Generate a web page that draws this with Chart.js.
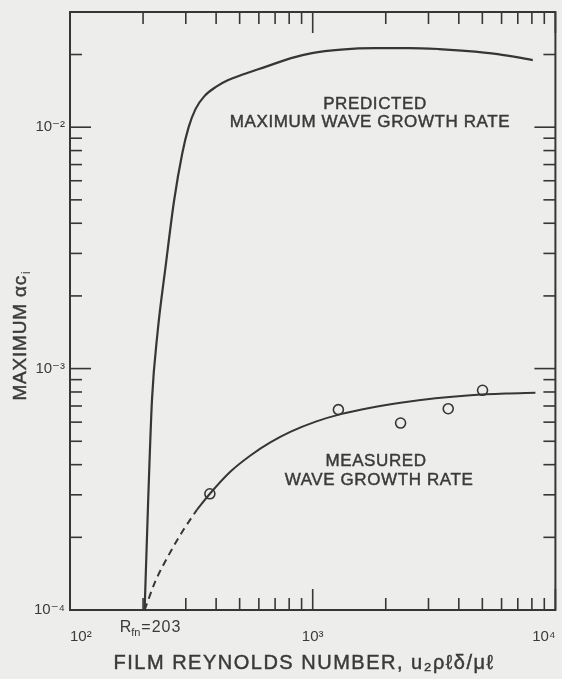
<!DOCTYPE html>
<html>
<head>
<meta charset="utf-8">
<script src="https://cdn.jsdelivr.net/npm/chart.js@4.4.1/dist/chart.umd.min.js"></script>
<style>
  html, body { margin: 0; padding: 0; background: #ededeb; }
  canvas { display: block; }
</style>
</head>
<body>
<canvas id="c" width="562" height="679"></canvas>
<script>
// ---------------- data ----------------
const predictedRe   = [203, 210, 217.7, 229.5, 247.7, 268.6, 290.2, 308.2, 328.9, 357.9, 400.7, 448.8, 507.7, 642.9, 814.4, 993, 1307, 1804, 2490, 3307, 4113, 5786, 8066];
const predictedRate = [1.0e-4, 2.86e-4, 7.44e-4, 1.411e-3, 2.65e-3, 4.98e-3, 7.80e-3, 1.0e-2, 1.188e-2, 1.345e-2, 1.472e-2, 1.567e-2, 1.644e-2, 1.782e-2, 1.933e-2, 2.028e-2, 2.097e-2, 2.127e-2, 2.127e-2, 2.107e-2, 2.077e-2, 2.009e-2, 1.897e-2];

const measuredExtrapRe   = [203, 224.2, 256.7, 293.5, 333.2];
const measuredExtrapRate = [1.0e-4, 1.307e-4, 1.708e-4, 2.148e-4, 2.60e-4];

const measuredFitRe   = [333.2, 376.9, 459.7, 555.8, 671.8, 812.3, 1029, 1304, 1733, 2302, 3208, 4469, 6228, 8274];
const measuredFitRate = [2.60e-4, 3.03e-4, 3.755e-4, 4.377e-4, 4.955e-4, 5.478e-4, 6.027e-4, 6.476e-4, 6.89e-4, 7.226e-4, 7.544e-4, 7.762e-4, 7.89e-4, 7.95e-4];

const measuredRe   = [377, 1276, 2302, 3617, 5010];
const measuredRate = [3.03e-4, 6.76e-4, 5.95e-4, 6.82e-4, 8.13e-4];

const xTickValues = [100, 1000, 10000];
const xTickLabels = ['10²', '10³', '10⁴'];
const yTickValues = [1e-4, 1e-3, 1e-2];
const yTickLabels = ['10⁻⁴', '10⁻³', '10⁻²'];
const xMinorTicks = [200, 300, 400, 500, 600, 700, 800, 900, 2000, 3000, 4000, 5000, 6000, 7000, 8000, 9000];
const yMinorTicks = [2e-4, 3e-4, 4e-4, 5e-4, 6e-4, 7e-4, 8e-4, 9e-4, 2e-3, 3e-3, 4e-3, 5e-3, 6e-3, 7e-3, 8e-3, 9e-3, 2e-2];

const neutralRe = 203;
const xTitle = 'FILM REYNOLDS NUMBER, u₂ρℓδ/μℓ';
const yTitleMain = 'MAXIMUM αc';
const yTitleSub = 'i';
const predictedLabel = ['PREDICTED', 'MAXIMUM WAVE GROWTH RATE'];
const measuredLabel = ['MEASURED', 'WAVE GROWTH RATE'];

// ---------------- styling ----------------
const INK = '#363636';
const TEXT = '#3a3a3a';
const BG = '#ededeb';
const FONT = '"Liberation Sans", Arial, "DejaVu Sans", sans-serif';

const pts = (xs, ys) => xs.map((x, i) => ({ x, y: ys[i] }));

function txt(ctx, s, x, y, size, align, spacing) {
  ctx.font = size + 'px ' + FONT;
  ctx.textAlign = align || 'center';
  ctx.textBaseline = 'middle';
  try { ctx.letterSpacing = (spacing || 0) + 'px'; } catch (e) {}
  ctx.fillText(s, x, y);
  ctx.strokeText(s, x, y);
  try { ctx.letterSpacing = '0px'; } catch (e) {}
}

const paperPlugin = {
  id: 'paper',
  beforeDraw(chart) {
    const c = chart.ctx;
    c.save();
    c.fillStyle = BG;
    c.fillRect(0, 0, chart.width, chart.height);
    c.restore();
  },
  beforeDatasetsDraw(chart) {
    const c = chart.ctx;
    const { left, right, top, bottom } = chart.chartArea;
    const xs = chart.scales.x, ys = chart.scales.y;
    const MINOR = 12, MAJOR = 21;
    c.save();
    c.strokeStyle = INK;
    c.lineCap = 'butt';
    c.lineWidth = 1.6;
    const seg = (x1, y1, x2, y2) => { c.beginPath(); c.moveTo(x1, y1); c.lineTo(x2, y2); c.stroke(); };
    xMinorTicks.forEach(v => {
      const p = xs.getPixelForValue(v);
      seg(p, bottom, p, bottom - MINOR);
      seg(p, top, p, top + MINOR);
    });
    xTickValues.forEach(v => {
      const p = xs.getPixelForValue(v);
      seg(p, bottom, p, bottom - MAJOR);
      seg(p, top, p, top + MAJOR);
    });
    yMinorTicks.forEach(v => {
      const p = ys.getPixelForValue(v);
      seg(left, p, left + MINOR, p);
      seg(right, p, right - MINOR, p);
    });
    yTickValues.forEach(v => {
      const p = ys.getPixelForValue(v);
      seg(left, p, left + MAJOR, p);
      seg(right, p, right - MAJOR, p);
    });
    c.lineWidth = 2;
    c.strokeRect(left, top, right - left, bottom - top);
    c.restore();
  },
  afterDraw(chart) {
    const c = chart.ctx;
    const xs = chart.scales.x;
    c.save();
    c.fillStyle = TEXT;
    c.strokeStyle = TEXT;
    c.lineWidth = 0.45;
    // annotations
    txt(c, predictedLabel[0], 375, 104, 17, 'center', 0.6);
    txt(c, predictedLabel[1], 370, 122, 17, 'center', 0.6);
    txt(c, measuredLabel[0], 376, 461, 17, 'center', 0.6);
    txt(c, measuredLabel[1], 379, 480, 17, 'center', 0.6);
    // R_fn = 203
    let rx = xs.getPixelForValue(neutralRe) - 25;
    c.font = '16px ' + FONT; c.textAlign = 'left'; c.textBaseline = 'alphabetic';
    c.fillText('R', rx, 632);
    rx += c.measureText('R').width;
    c.font = '11px ' + FONT;
    c.fillText('fn', rx, 636);
    rx += c.measureText('fn').width + 1;
    c.font = '16px ' + FONT;
    try { c.letterSpacing = '1px'; } catch (e) {}
    c.fillText('=' + neutralRe, rx, 632);
    try { c.letterSpacing = '0px'; } catch (e) {}
    // x title
    txt(c, xTitle, 304, 663, 20, 'center', 1.5);
    // y title (rotated)
    c.save();
    c.translate(21, 336);
    c.rotate(-Math.PI / 2);
    c.font = '19px ' + FONT;
    try { c.letterSpacing = '0.8px'; } catch (e) {}
    const w1 = c.measureText(yTitleMain).width;
    c.font = '12px ' + FONT;
    const w2 = c.measureText(yTitleSub).width;
    let sx = -(w1 + w2) / 2;
    c.textAlign = 'left'; c.textBaseline = 'middle';
    c.font = '19px ' + FONT;
    c.fillText(yTitleMain, sx, 0);
    c.strokeText(yTitleMain, sx, 0);
    c.font = '12px ' + FONT;
    c.fillText(yTitleSub, sx + w1 + 1, 6);
    c.restore();
    c.restore();
  }
};

const tickFont = { family: FONT, size: 15 };

new Chart(document.getElementById('c'), {
  type: 'line',
  data: {
    datasets: [
      {
        label: 'Predicted maximum wave growth rate',
        data: pts(predictedRe, predictedRate),
        borderColor: INK, borderWidth: 2.2, pointRadius: 0,
        cubicInterpolationMode: 'monotone', fill: false, clip: false
      },
      {
        label: 'Measured (extrapolated)',
        data: pts(measuredExtrapRe, measuredExtrapRate),
        borderColor: INK, borderWidth: 2, borderDash: [7, 5], pointRadius: 0,
        cubicInterpolationMode: 'monotone', fill: false, clip: false
      },
      {
        label: 'Measured wave growth rate',
        data: pts(measuredFitRe, measuredFitRate),
        borderColor: INK, borderWidth: 2, pointRadius: 0,
        cubicInterpolationMode: 'monotone', fill: false, clip: false
      },
      {
        label: 'Measured',
        data: pts(measuredRe, measuredRate),
        showLine: false,
        pointRadius: 5, pointBorderWidth: 1.6,
        pointBackgroundColor: BG, pointBorderColor: INK, clip: false
      }
    ]
  },
  options: {
    responsive: false,
    devicePixelRatio: 1,
    animation: false,
    layout: { padding: { left: 0, right: 6, top: 12, bottom: 0 } },
    plugins: { legend: { display: false }, tooltip: { enabled: false } },
    scales: {
      x: {
        type: 'logarithmic', min: 100, max: 10000, position: 'bottom',
        afterBuildTicks: s => { s.ticks = xTickValues.map(v => ({ value: v })); },
        afterFit: s => { s.height = 69; s.paddingLeft = 0; s.paddingRight = 0; },
        grid: { display: false, drawTicks: false },
        border: { display: false },
        ticks: {
          autoSkip: false, maxRotation: 0, minRotation: 0, padding: 18,
          align: 'inner',
          font: tickFont, color: TEXT,
          callback: (v, i) => xTickLabels[i]
        }
      },
      y: {
        type: 'logarithmic', min: 1e-4, max: 3e-2, position: 'left',
        afterBuildTicks: s => { s.ticks = yTickValues.map(v => ({ value: v })); },
        afterFit: s => { s.width = 70; s.paddingTop = 0; s.paddingBottom = 0; },
        grid: { display: false, drawTicks: false },
        border: { display: false },
        ticks: {
          autoSkip: false, padding: 5,
          font: tickFont, color: TEXT,
          callback: (v, i) => yTickLabels[i]
        }
      }
    }
  },
  plugins: [paperPlugin]
});
</script>
</body>
</html>
